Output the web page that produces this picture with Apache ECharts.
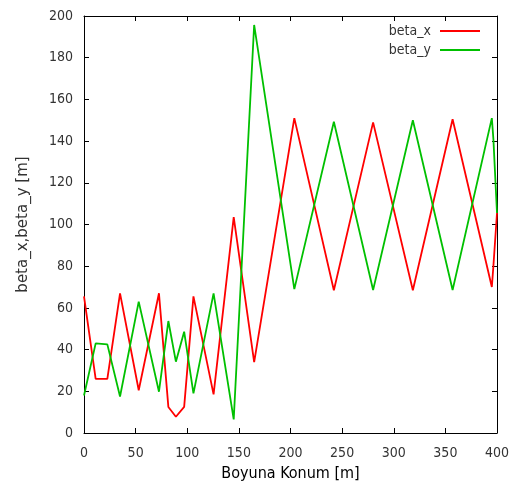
<!DOCTYPE html>
<html>
<head>
<meta charset="utf-8">
<script src="https://cdn.jsdelivr.net/npm/echarts@6/dist/echarts.min.js"></script>
<style>html,body{margin:0;padding:0;background:#fff}#c{width:521px;height:493px}</style>
</head>
<body>
<div id="c"></div>
<script>
var positions = [0, 11.3, 22.6, 34.9, 53, 72.6, 81.7, 89, 97, 106, 125.5, 145, 164.8, 203.7, 242, 280, 318.5, 357, 395, 396.5, 400];
var betaX = [65.5, 26, 26, 67, 20.5, 67, 12.5, 7.8, 12.5, 65.5, 18.5, 103.5, 34, 151, 68.5, 149, 68.5, 150.5, 70, 80, 105.5];
var betaY = [18, 43, 42.5, 17.5, 63, 19.8, 53.7, 34.2, 48.6, 19, 67, 6.5, 195.7, 69, 149.3, 68.6, 150, 68.6, 151, 141, 105.5];
var seriesNames = ['beta_x', 'beta_y'];
var xTitle = 'Boyuna Konum [m]';
var yTitle = 'beta_x,beta_y [m]';

function pairs(xs, ys) { return xs.map(function (x, i) { return [x, ys[i]]; }); }

var condFont = "'DejaVu Sans Condensed', 'Liberation Sans Narrow', sans-serif";
var font = "'DejaVu Sans', sans-serif";
var tickCol = '#333';
var chart = echarts.init(document.getElementById('c'), null, {renderer: 'canvas'});
var axisCommon = {
  type: 'value',
  axisLine: {show: true, onZero: false, lineStyle: {color: '#000', width: 1}},
  axisTick: {show: true, inside: true, length: 5, lineStyle: {color: '#000'}},
  splitLine: {show: false}
};
chart.setOption({
  animation: false,
  backgroundColor: '#fff',
  grid: {left: 84, right: 24, top: 16, bottom: 60, containLabel: false},
  legend: {
    data: seriesNames,
    orient: 'vertical',
    align: 'right',
    right: 41,
    top: 24,
    padding: 0,
    icon: 'rect',
    itemWidth: 40,
    itemHeight: 2,
    itemGap: 5,
    textStyle: {fontFamily: condFont, fontSize: 14, color: tickCol, padding: [0, 4, 0, 0]}
  },
  xAxis: [
    Object.assign({}, axisCommon, {
      min: 0, max: 400, interval: 50, position: 'bottom',
      axisLabel: {fontFamily: condFont, fontSize: 14, color: tickCol, margin: 13},
      name: xTitle, nameLocation: 'middle', nameGap: 33,
      nameTextStyle: {fontFamily: condFont, fontSize: 16, color: '#000'}
    }),
    Object.assign({}, axisCommon, {
      min: 0, max: 400, interval: 50, position: 'top',
      axisLabel: {show: false}
    })
  ],
  yAxis: [
    Object.assign({}, axisCommon, {
      min: 0, max: 200, interval: 20, position: 'left',
      axisLabel: {fontFamily: condFont, fontSize: 14, color: tickCol, margin: 11},
      name: yTitle, nameLocation: 'middle', nameGap: 53,
      nameTextStyle: {fontFamily: font, fontSize: 15, color: tickCol}
    }),
    Object.assign({}, axisCommon, {
      min: 0, max: 200, interval: 20, position: 'right',
      axisLabel: {show: false}
    })
  ],
  series: [
    {name: seriesNames[0], type: 'line', data: pairs(positions, betaX), showSymbol: false,
     lineStyle: {color: '#ff0000', width: 1.8}, itemStyle: {color: '#ff0000'}},
    {name: seriesNames[1], type: 'line', data: pairs(positions, betaY), showSymbol: false,
     lineStyle: {color: '#00c000', width: 1.8}, itemStyle: {color: '#00c000'}}
  ]
});
</script>
</body>
</html>
